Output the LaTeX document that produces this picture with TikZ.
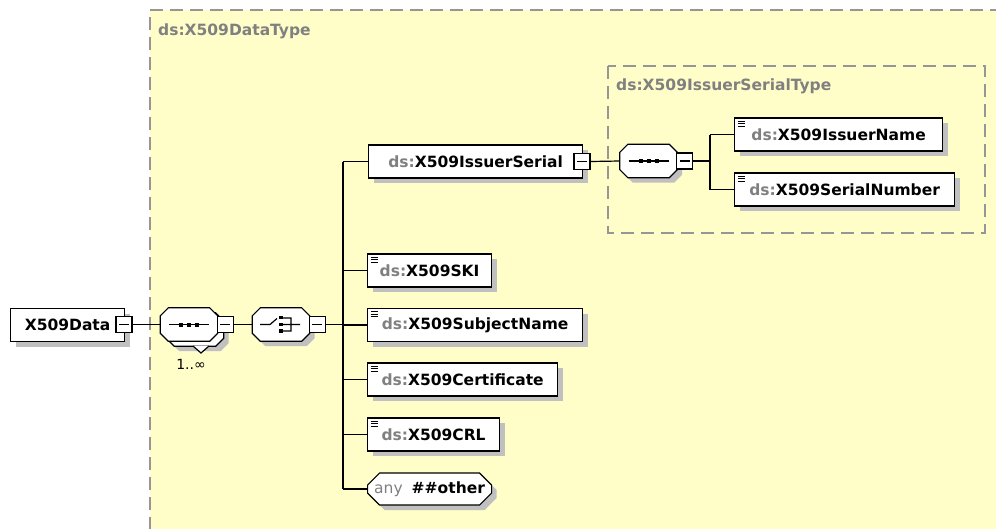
\documentclass[tikz,border=0pt]{standalone}
\usepackage{fontspec}
\setmainfont{DejaVu Sans}
\usetikzlibrary{shapes.misc,shadows}

\definecolor{areafill}{RGB}{255,253,200}
\definecolor{areaborder}{RGB}{150,150,150}
\definecolor{lblgray}{RGB}{128,128,128}
\definecolor{shadowgray}{RGB}{192,192,192}

\newcommand{\nsp}{\textcolor{lblgray}{ds:}}
% octagon round a (hidden) compositor node
\newcommand{\octpath}[2]{([xshift=#2pt]#1.north west) -- ([xshift=-#2pt]#1.north east)
  -- ([yshift=-#2pt]#1.north east) -- ([yshift=#2pt]#1.south east)
  -- ([xshift=-#2pt]#1.south east) -- ([xshift=#2pt]#1.south west)
  -- ([yshift=#2pt]#1.south west) -- ([yshift=-#2pt]#1.north west) -- cycle}
\newcommand{\seqmark}[1]{%
  \draw[symline] ([xshift=-20pt]#1.center) -- ([xshift=20pt]#1.center);
  \foreach \sx in {-8,0,8}
    \fill ([shift={(\sx-2,-2)}]#1.center) rectangle ([shift={(\sx+2,2)}]#1.center);}
\newcommand{\choicemark}[1]{%
  \draw[symline, shift={(#1.center)}]
    (-21,0) -- (-11,0) -- (-4,-6) (2,-6.5) -- (10,-6.5) -- (10,6.5) -- (2,6.5) (2,0) -- (19,0);
  \foreach \sy in {-7,0,6.5}
    \fill[shift={(#1.center)}] (-1.8,\sy-1.8) rectangle (1.8,\sy+1.8);}

\begin{document}
\begin{tikzpicture}[x=1pt, y=-1pt,
  every node/.style={font=\fontsize{15.5}{18}\selectfont\bfseries, inner sep=0pt},
  shade5/.style={drop shadow={shadow xshift=5pt, shadow yshift=-5pt, fill=shadowgray, opacity=1}},
  elem/.style={draw, fill=white, line width=1.2pt, anchor=west, minimum height=33, shade5},
  simple/.style={elem, path picture={
    \foreach \dy in {3,5.5,8}
      \draw[line width=0.8pt] ([shift={(3,\dy)}]path picture bounding box.north west) -- ++(7,0);}},
  octo/.style={rectangle, minimum width=57, minimum height=33},
  octline/.style={draw, fill=white, line width=1.2pt},
  symline/.style={line width=1.2pt},
  collapse/.style={draw, fill=white, line width=1.1pt, minimum size=16, path picture={
    \draw[line width=1.1pt] ([xshift=3pt]path picture bounding box.west) -- ([xshift=-3pt]path picture bounding box.east);}},
  conn/.style={line width=1.2pt},
  typebox/.style={areaborder, line width=1.5pt, dash pattern=on 13pt off 7pt},
  typelabel/.style={anchor=west, text=lblgray}
]
\useasboundingbox (0,0) rectangle (996,528);
\fill[white] (0,0) rectangle (996,528);

% complex type area
\fill[areafill] (150,10) rectangle (1000,530);
\draw[typebox] (150,530) -- (150,10) -- (1000,10);
\node[typelabel] (dtype) at (158,31) {ds:X509DataType};
\draw[typebox] (608,66) rectangle (985,233);
\node[typelabel] (stype) at (616,86) {ds:X509IssuerSerialType};

% root element
\node[elem, minimum width=114] (root) at (10,325) {X509Data};
\node[collapse] (rootm) at (124,324.5) {};

% sequence 1..oo
\node[octo] (seqaback) at (195,329.5) {};
\path[octline, shade5] \octpath{seqaback}{8};
\draw[line width=1.2pt, fill=white] (193,346) -- (201,353) -- (209,346);
\node[octo] (seqa) at (189,324.5) {};
\path[octline] \octpath{seqa}{8};
\seqmark{seqa}
\node[collapse, anchor=west] (seqam) at ([xshift=-1pt]seqa.east) {};
\node[font=\fontsize{14}{16}\selectfont] (occ) at (191,364) {1..∞};

% choice
\node[octo] (choice) at (281,324.5) {};
\path[octline, shade5] \octpath{choice}{8};
\choicemark{choice}
\node[collapse, anchor=west] (choicem) at ([xshift=-1pt]choice.east) {};
\coordinate (bus) at (343,324.5);

% children of the choice
\node[elem, minimum width=214] (serial) at (368,161.5) {\nsp X509IssuerSerial\hspace{8pt}};
\node[collapse] (serialm) at (582,161.5) {};
\node[simple, minimum width=124] (ski) at (367,270.5) {\nsp X509SKI};
\node[simple, minimum width=215] (subject) at (367,325) {\nsp X509SubjectName};
\node[simple, minimum width=190] (cert) at (367,379.5) {\nsp X509Certificate};
\node[simple, minimum width=132] (crl) at (367,434.5) {\nsp X509CRL};
\node[chamfered rectangle, chamfered rectangle xsep=6pt, chamfered rectangle ysep=6pt,
  octline, shade5, anchor=west, minimum width=124, minimum height=32] (other) at (367,489)
  {\textcolor{lblgray}{\mdseries any}\hspace{9pt}\#\#other};

% issuer serial type
\node[octo] (seqb) at (648.5,161) {};
\path[octline, shade5] \octpath{seqb}{8};
\seqmark{seqb}
\node[collapse, anchor=west] (seqbm) at ([xshift=-1pt]seqb.east) {};
\coordinate (ibus) at (710,161);
\node[simple, minimum width=208] (iname) at (734,134.5) {\nsp X509IssuerName};
\node[simple, minimum width=220] (snum) at (734,189.5) {\nsp X509SerialNumber};

% connectors
\draw[conn] (rootm.east) -- (seqa.west);
\draw[conn] (seqam.east) -- (choice.west);
\draw[conn] (choicem.east) -- (bus);
\draw[conn] (bus |- serial.west) -- (bus |- other.west);
\foreach \c in {serial,ski,subject,cert,crl,other}
  \draw[conn] (bus |- \c.west) -- (\c.west);
\draw[conn] (serialm.east) -- (seqb.west);
\draw[conn] (seqbm.east) -- (ibus);
\draw[conn] (ibus |- iname.west) -- (ibus |- snum.west);
\foreach \c in {iname,snum}
  \draw[conn] (ibus |- \c.west) -- (\c.west);
\end{tikzpicture}
\end{document}
